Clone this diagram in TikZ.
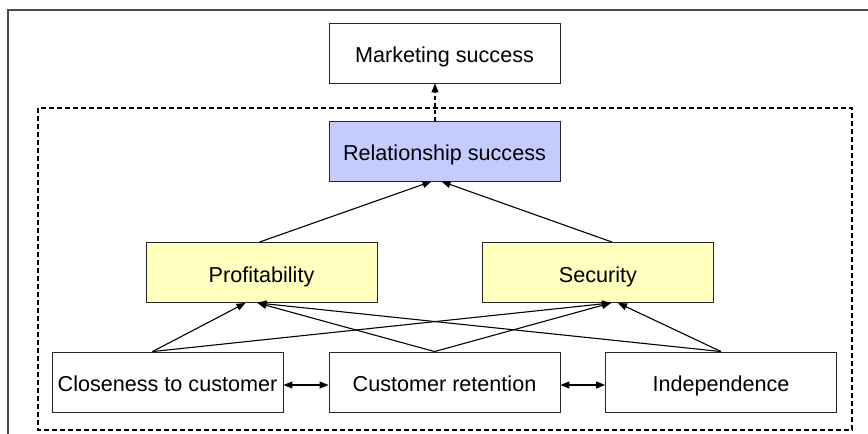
\documentclass[tikz,border=0pt]{standalone}
\usepackage{fontspec}
\setmainfont{Liberation Sans}
\usepackage{tikz}
\usetikzlibrary{positioning,calc,arrows.meta}

\definecolor{relblue}{RGB}{196,204,255}
\definecolor{factyellow}{RGB}{255,255,192}

\tikzset{
    factor/.style={draw=black!85, rectangle, line width=0.9pt, minimum width=231pt, minimum height=60pt, inner sep=0pt, text height=19pt, text depth=0pt, font=\fontsize{21.6}{25}\selectfont},
    link/.style={line width=1.1pt, -{Triangle[length=9pt,width=7pt]}},
    mutual/.style={line width=1.1pt, {Triangle[length=9pt,width=7pt]}-{Triangle[length=9pt,width=7pt]}}
}

\begin{document}
\begin{tikzpicture}[x=1pt,y=-1pt]
    \useasboundingbox (0,0) rectangle (868,434);
    % frame
    \draw [black!70, line width=1.1pt] (8,434) -- (8,10) -- (868,10);
    \draw [dashed, dash pattern=on 5pt off 3pt, line width=1.3pt] (38,108) rectangle (852,430);

    % top levels
    \node [factor, fill=white] (market) at (444.5,53) {Marketing success};
    \node [factor, fill=relblue] (rel) at (444.5,151) {Relationship success};

    % middle level
    \node [factor, fill=factyellow] (prof) at (261.5,272.5) {Profitability};
    \node [factor, fill=factyellow] (sec) at (598,272.5) {Security};

    % bottom level
    \node [factor, fill=white] (close) at (167.5,382) {Closeness to customer};
    \node [factor, fill=white] (ret) at (444.5,382) {Customer retention};
    \node [factor, fill=white] (indep) at (721,382) {Independence};

    % connectors
    \draw [link, dashed, dash pattern=on 4pt off 3pt] ($(rel.north)+(-9.5,0)$) -- ($(market.south)+(-9.5,0)$);
    \draw [link] ($(prof.north)+(-2,0)$) -- ($(rel.south)+(-13,0)$);
    \draw [link] ($(sec.north)+(14,0)$) -- ($(rel.south)+(-3,0)$);

    \draw [link] ($(close.north)+(-15,0)$) -- ($(prof.south)+(-16,0)$);
    \draw [link] ($(close.north)+(-15,0)$) -- ($(sec.south)+(13,0)$);
    \draw [link] ($(ret.north)+(-10,0)$) -- ($(prof.south)+(-4,0)$);
    \draw [link] ($(ret.north)+(-10,0)$) -- ($(sec.south)+(13,0)$);
    \draw [link] (indep.north) -- ($(sec.south)+(20,0)$);
    \draw [link] (indep.north) -- ($(prof.south)+(-4,0)$);

    \draw [mutual] ($(close.east)+(0,3)$) -- ($(ret.west)+(0,3)$);
    \draw [mutual] ($(ret.east)+(0,3)$) -- ($(indep.west)+(0,3)$);
\end{tikzpicture}
\end{document}
